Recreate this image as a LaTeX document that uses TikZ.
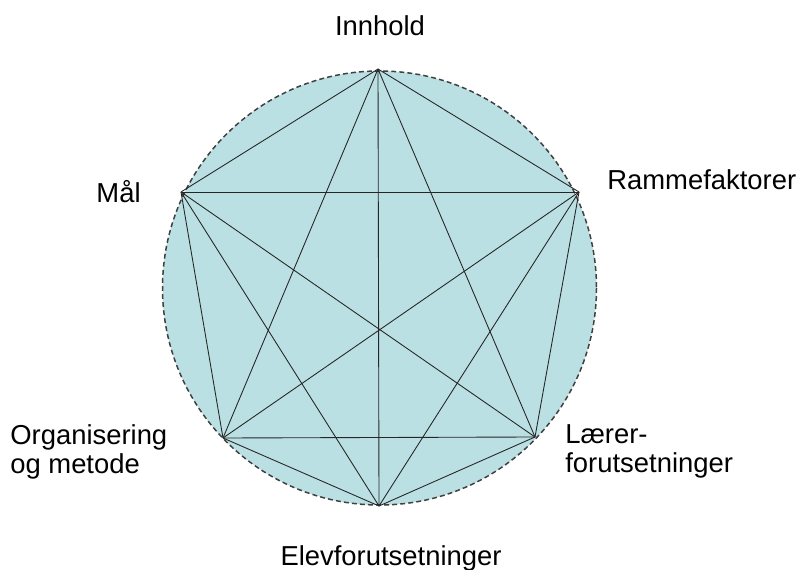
\documentclass[tikz,border=0pt]{standalone}
\usepackage{fontspec}
\setmainfont{Liberation Sans}
\definecolor{flate}{RGB}{187,224,227}
\tikzset{
  etikett/.style={inner sep=0pt, font=\fontsize{15.6}{16.5}\selectfont},
  kant/.style={draw=black!85, line width=0.5pt},
}
\begin{document}
\begin{tikzpicture}[x=0.02cm, y=-0.02cm]
        \useasboundingbox (0,0) rectangle (807,570);

        % Sirkel
        \coordinate (S) at (379.5,288);
        \filldraw[fill=flate, draw=black!75, dash pattern=on 2.8pt off 1.8pt, line width=0.85pt] (S) circle (217);

        % Hjorner
        \coordinate (Innhold) at (378,69);
        \coordinate (Ramme) at (579,192);
        \coordinate (Laerer) at (535,437);
        \coordinate (Elev) at (379,506);
        \coordinate (Org) at (223,438);
        \coordinate (Maal) at (181,192);

        % Linjer mellom alle hjorner
        \foreach \a/\b in {Innhold/Ramme, Innhold/Laerer, Innhold/Elev, Innhold/Org, Innhold/Maal,
                           Ramme/Laerer, Ramme/Elev, Ramme/Org, Ramme/Maal,
                           Laerer/Elev, Laerer/Org, Laerer/Maal,
                           Elev/Org, Elev/Maal, Org/Maal}
            \draw[kant] (\a) -- (\b);

        % Etiketter
        \node[etikett, anchor=base] (tInnhold) at (380,36) {Innhold};
        \node[etikett, anchor=base west] (tRamme) at (607,190) {Rammefaktorer};
        \node[etikett, anchor=base east] (tMaal) at (141,203) {Mål};
        \node[etikett, anchor=base] (tElev) at (391,565) {Elevforutsetninger};
        \node[etikett, anchor=north west, align=left] (tOrg) at (10,424) {Organisering\\og metode};
        \node[etikett, anchor=north west, align=left] (tLaerer) at (565,424) {Lærer-\\forutsetninger};
    \end{tikzpicture}
\end{document}
